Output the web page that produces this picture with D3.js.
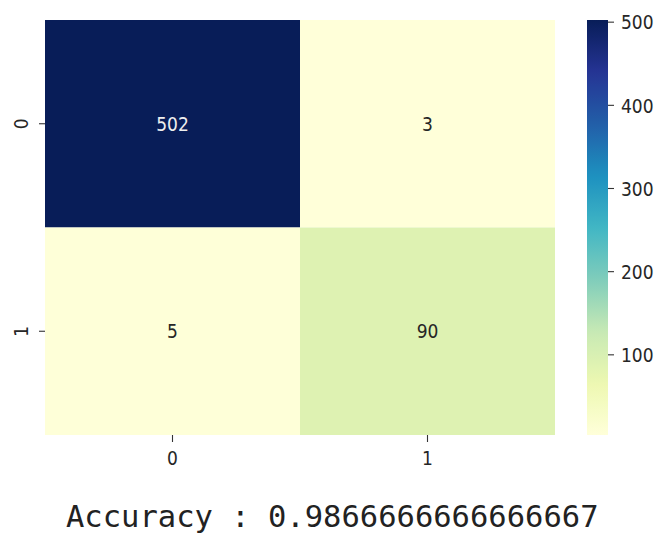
<!DOCTYPE html>
<html>
<head>
<meta charset="utf-8">
<script src="https://cdn.jsdelivr.net/npm/d3@7"></script>
<style>
  html, body { margin: 0; padding: 0; background: #fff; }
  svg { display: block; }
</style>
</head>
<body>
<svg id="chart" width="657" height="534"></svg>
<script>
// Confusion matrix: rows = actual class, columns = predicted class
const rowLabels = ["0", "1"];
const colLabels = ["0", "1"];
const row0 = [502, 3];
const row1 = [5, 90];
const colorbarTicks = [100, 200, 300, 400, 500];
const accuracyText = "Accuracy : 0.9866666666666667";

// YlGnBu palette stops
const ylgnbu = ["#ffffd9", "#edf8b1", "#c7e9b4", "#7fcdbb", "#41b6c4",
                "#1d91c0", "#225ea8", "#253494", "#081d58"];

const matrix = [row0, row1];
const cells = [];
matrix.forEach((r, i) => r.forEach((v, j) => cells.push({ row: rowLabels[i], col: colLabels[j], value: v })));

const vmin = d3.min(cells, d => d.value);
const vmax = d3.max(cells, d => d.value);

const svg = d3.select("#chart");
const plotLeft = 45, plotRight = 555, plotTop = 20, plotBottom = 435;

const x = d3.scaleBand().domain(colLabels).range([plotLeft, plotRight]);
const y = d3.scaleBand().domain(rowLabels).range([plotTop, plotBottom]);

const color = d3.scaleLinear()
  .domain(ylgnbu.map((_, i) => vmin + (vmax - vmin) * i / (ylgnbu.length - 1)))
  .range(ylgnbu)
  .interpolate(d3.interpolateRgb)
  .clamp(true);

const font = "'DejaVu Sans Condensed', 'DejaVu Sans', sans-serif";
const fontSize = 19;

function styleText(sel) {
  sel.attr("font-family", font)
     .attr("font-size", fontSize)
     .style("font-stretch", "condensed")
     .attr("fill", "#262626");
}

// cells
svg.append("g").selectAll("rect").data(cells).join("rect")
  .attr("x", d => x(d.col))
  .attr("y", d => y(d.row))
  .attr("width", x.bandwidth())
  .attr("height", y.bandwidth())
  .attr("fill", d => color(d.value));

// annotations
svg.append("g").selectAll("text").data(cells).join("text")
  .attr("x", d => x(d.col) + x.bandwidth() / 2)
  .attr("y", d => y(d.row) + y.bandwidth() / 2)
  .attr("dy", "0.38em")
  .attr("text-anchor", "middle")
  .call(styleText)
  .attr("fill", d => (d.value - vmin) / (vmax - vmin) > 0.5 ? "#eeeeee" : "#262626")
  .text(d => d.value);

// x axis
const xAxis = svg.append("g")
  .attr("transform", `translate(0,${plotBottom})`)
  .call(d3.axisBottom(x).tickSize(7).tickPadding(0));
xAxis.select(".domain").remove();
xAxis.selectAll("line").attr("stroke", "#333").attr("stroke-width", 1.1);
xAxis.selectAll("text").call(styleText).attr("y", 30).attr("dy", null);

// y axis with rotated labels
const yAxis = svg.append("g")
  .attr("transform", `translate(${plotLeft},0)`)
  .call(d3.axisLeft(y).tickSize(6).tickPadding(0));
yAxis.select(".domain").remove();
yAxis.selectAll("line").attr("stroke", "#333").attr("stroke-width", 1.1);
yAxis.selectAll("text")
  .call(styleText)
  .attr("x", null).attr("dy", null)
  .attr("text-anchor", "middle")
  .attr("transform", "translate(-17,0) rotate(-90)");

// colorbar
const cbLeft = 587, cbWidth = 21;
const cbScale = d3.scaleLinear().domain([vmin, vmax]).range([plotBottom, plotTop]);
const grad = svg.append("defs").append("linearGradient")
  .attr("id", "cbgrad").attr("x1", 0).attr("y1", 1).attr("x2", 0).attr("y2", 0);
d3.range(0, 1.0001, 0.02).forEach(t => {
  grad.append("stop").attr("offset", t).attr("stop-color", color(vmin + t * (vmax - vmin)));
});
svg.append("rect")
  .attr("x", cbLeft).attr("y", plotTop)
  .attr("width", cbWidth).attr("height", plotBottom - plotTop)
  .attr("fill", "url(#cbgrad)");

const cbAxis = svg.append("g")
  .attr("transform", `translate(${cbLeft + cbWidth},0)`)
  .call(d3.axisRight(cbScale).tickValues(colorbarTicks).tickSize(6).tickPadding(7));
cbAxis.select(".domain").remove();
cbAxis.selectAll("line").attr("stroke", "#333").attr("stroke-width", 1.1);
cbAxis.selectAll("text").call(styleText).attr("dy", "0.38em");

// accuracy caption
svg.append("text")
  .attr("x", 66).attr("y", 527)
  .attr("font-family", "'DejaVu Sans Mono', monospace")
  .attr("font-size", 30.5)
  .attr("fill", "#222")
  .text(accuracyText);
</script>
</body>
</html>
